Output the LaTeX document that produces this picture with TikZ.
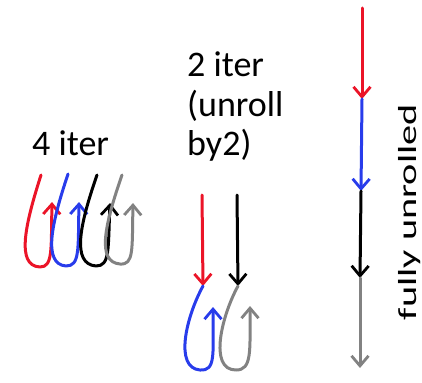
\documentclass[tikz,border=0pt]{standalone}
\usepackage{fontspec}
\setmainfont{Carlito}
\usetikzlibrary{arrows.meta,positioning}

\definecolor{itred}{RGB}{235,20,40}
\definecolor{itblue}{RGB}{40,60,235}
\definecolor{itgray}{RGB}{130,130,130}

\tikzset{
  loop/.style={line width=3pt, line cap=round, line join=round,
    -{Straight Barb[length=10pt,width=17pt,line width=2.8pt]}},
  lbl/.style={inner sep=0pt, font=\fontsize{36}{39}\selectfont}
}

\begin{document}
\begin{tikzpicture}[x=1pt,y=-1pt]
  \useasboundingbox (0,0) rectangle (422,382);

  % labels (a multi-line node sits on its last baseline)
  \node [lbl, anchor=base west] at (32,155) (l4) {4 iter};
  \node [lbl, anchor=base west, align=left] at (187,155) (l2) {2 iter\\(unroll\\by2)};
  \node [inner sep=0pt, rotate=90, anchor=base] at (416,212) (lfu)
    {\scalebox{1.55}[1]{\fontsize{26}{30}\selectfont fully unrolled}};

  % 4 iter: one loop per iteration
  \coordinate (a1) at (41,175);  \coordinate (b1) at (52,202);
  \coordinate (a2) at (68,174);  \coordinate (b2) at (79,202);
  \coordinate (a3) at (97,175);  \coordinate (b3) at (110,203);
  \coordinate (a4) at (122,175); \coordinate (b4) at (133,203);

  \draw [loop, itred]  (a1) .. controls (26,222) and (15,266) .. (40,267) .. controls (53,267) and (51,250) .. (b1);
  \draw [loop, itblue] (a2) .. controls (52,222) and (42,264) .. (66,266) .. controls (80,266) and (78,250) .. (b2);
  \draw [loop, black]  (a3) .. controls (80,224) and (71,264) .. (96,266) .. controls (110,266) and (108,250) .. (b3);
  \draw [loop, itgray] (a4) .. controls (105,224) and (96,262) .. (120,264) .. controls (134,265) and (132,250) .. (b4);

  % 2 iter (unroll by 2)
  \coordinate (c1) at (202,195); \coordinate (d1) at (203,286);
  \coordinate (c2) at (237,195); \coordinate (d2) at (238,286);
  \coordinate (e1) at (213,307); \coordinate (e2) at (250,306);

  \draw [loop, itred]  (c1) -- (d1);
  \draw [loop, black]  (c2) -- (d2);
  \draw [loop, itblue] (d1) .. controls (186,317) and (174,368) .. (200,370) .. controls (216,371) and (213,355) .. (e1);
  \draw [loop, itgray] (d2) .. controls (222,315) and (208,370) .. (236,370) .. controls (252,370) and (250,352) .. (e2);

  % fully unrolled
  \coordinate (f0) at (362,8);
  \coordinate (f1) at (362,99);
  \coordinate (f2) at (361,191);
  \coordinate (f3) at (360,278);
  \coordinate (f4) at (360,368);

  \draw [loop, itred]  (f0) -- (f1);
  \draw [loop, itblue] (f1) -- (f2);
  \draw [loop, black]  (f2) -- (f3);
  \draw [loop, itgray] (f3) -- (f4);
\end{tikzpicture}
\end{document}
